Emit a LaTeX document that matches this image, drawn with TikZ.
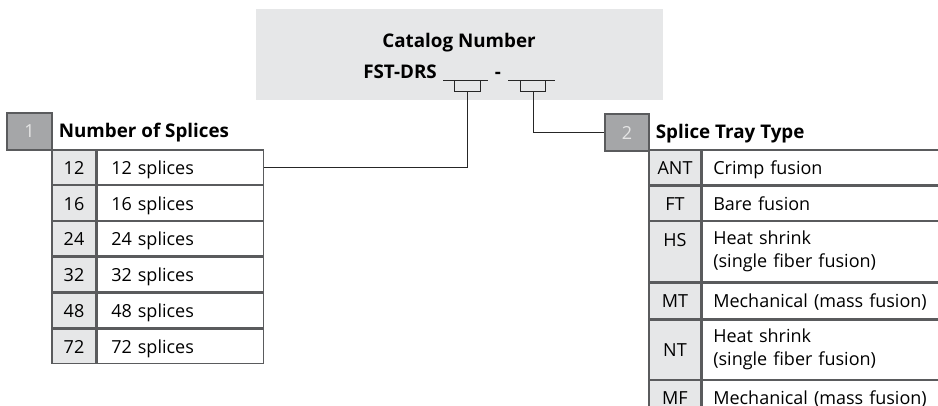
\documentclass[tikz,border=0pt]{standalone}
\usepackage{fontspec}
\setmainfont{Open Sans}
\usetikzlibrary{positioning}
\definecolor{panel}{HTML}{E6E7E8}
\definecolor{badge}{HTML}{A5A6A8}
\definecolor{rule}{HTML}{5A5B5D}

\begin{document}
\begin{tikzpicture}[x=1pt,y=-1pt,
  every node/.style={font=\fontsize{18}{23}\selectfont},
  badgebox/.style={draw=rule, line width=1.3, fill=badge, text=white!90!black, inner sep=0, minimum height=37},
  heading/.style={font=\fontsize{18.8}{23}\selectfont\bfseries, inner sep=0},
  codecell/.style={draw=rule, line width=1.3, fill=panel, inner sep=0, align=center},
  descleft/.style={draw=rule, line width=1.3, align=left, inner ysep=0, inner xsep=14, text width=138},
  descright/.style={draw=rule, line width=1.3, align=left, inner ysep=0, inner xsep=11, text width=227},
  oneline/.style={text height=16, text depth=2},
  link/.style={black!85, line width=1}]
  \useasboundingbox (0,0) rectangle (938,405);

  % catalog number panel
  \fill[panel] (256,9) rectangle (663,100);
  \node[heading, anchor=base] (title) at (459,47) {Catalog Number};
  \node[heading, anchor=base east] (code) at (437,78) {FST-DRS};
  \node[heading, anchor=base] (dash) at (498,78) {-};
  \draw[link] (443,80) -- (488,80) (454,80) -- (454,91) -- (480,91) -- (480,80);
  \draw[link] (508,80) -- (555,80) (520,80) -- (520,91) -- (545,91) -- (545,80);
  \coordinate (slotA) at (467,91);
  \coordinate (slotB) at (533,91);

  % 1: number of splices
  \node[badgebox, minimum width=45] (badge1) at (29.5,131.5) {1};
  \node[heading, right=6pt of badge1, yshift=-1.5] (head1) {Number of Splices};
  \node[codecell, oneline, minimum width=44, minimum height=34.5] (n12) at (74,167.25) {12};
  \node[descleft, oneline, minimum height=34.5, right=0pt of n12] (d12) {12 splices};
  \node[codecell, oneline, minimum width=44, minimum height=34.5, below=0pt of n12] (n16) {16};
  \node[descleft, oneline, minimum height=34.5, right=0pt of n16] (d16) {16 splices};
  \node[codecell, oneline, minimum width=44, minimum height=34.5, below=0pt of n16] (n24) {24};
  \node[descleft, oneline, minimum height=34.5, right=0pt of n24] (d24) {24 splices};
  \node[codecell, oneline, minimum width=44, minimum height=34.5, below=0pt of n24] (n32) {32};
  \node[descleft, oneline, minimum height=34.5, right=0pt of n32] (d32) {32 splices};
  \node[codecell, oneline, minimum width=44, minimum height=34.5, below=0pt of n32] (n48) {48};
  \node[descleft, oneline, minimum height=34.5, right=0pt of n48] (d48) {48 splices};
  \node[codecell, oneline, minimum width=44, minimum height=34.5, below=0pt of n48] (n72) {72};
  \node[descleft, oneline, minimum height=34.5, right=0pt of n72] (d72) {72 splices};

  % 2: splice tray type
  \node[badgebox, minimum width=44] (badge2) at (627,132.5) {2};
  \node[heading, right=6pt of badge2, yshift=-1.5] (head2) {Splice Tray Type};
  \node[codecell, oneline, minimum width=52, minimum height=35] (tANT) at (675,167.5) {ANT};
  \node[descright, oneline, minimum height=35, right=0pt of tANT] (dANT) {Crimp fusion};
  \node[codecell, oneline, minimum width=52, minimum height=34, below=0pt of tANT] (tFT) {FT};
  \node[descright, oneline, minimum height=34, right=0pt of tFT] (dFT) {Bare fusion};
  \node[codecell, minimum width=52, minimum height=60, below=0pt of tFT] (tHS) {HS\\\mbox{}};
  \node[descright, minimum height=60, right=0pt of tHS] (dHS) {Heat shrink\\(single fiber fusion)};
  \node[codecell, oneline, minimum width=52, minimum height=36, below=0pt of tHS] (tMT) {MT};
  \node[descright, oneline, minimum height=36, right=0pt of tMT] (dMT) {Mechanical (mass fusion)};
  \node[codecell, minimum width=52, minimum height=59, below=0pt of tMT] (tNT) {NT};
  \node[descright, minimum height=59, right=0pt of tNT] (dNT) {Heat shrink\\(single fiber fusion)};
  \node[codecell, oneline, minimum width=52, minimum height=33, below=0pt of tNT] (tMF) {MF};
  \node[descright, oneline, minimum height=33, right=0pt of tMF] (dMF) {Mechanical (mass fusion)};

  % connectors
  \draw[link] (slotA) |- (d12.east);
  \draw[link] (slotB) |- (badge2.west);
\end{tikzpicture}
\end{document}
